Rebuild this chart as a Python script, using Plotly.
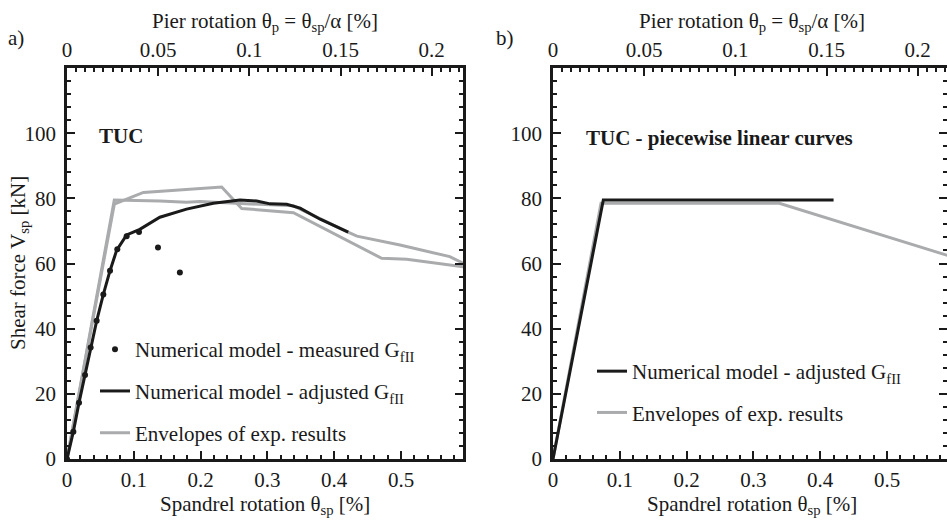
import plotly.graph_objects as go

# ---------------- data ----------------
ALPHA = 2.73  # theta_p = theta_sp / alpha

# panel a) envelopes of experimental results
env1_x = [0, 0.0708, 0.139, 0.179, 0.199, 0.339, 0.419, 0.434, 0.4985, 0.573, 0.593]
env1_y = [0, 79.5, 79.2, 78.8, 79.0, 77.7, 69.8, 68.4, 65.7, 62.1, 60.1]
env2_x = [0, 0.0708, 0.1143, 0.199, 0.2316, 0.2615, 0.339, 0.471, 0.5085, 0.593]
env2_y = [0, 78.2, 81.8, 82.9, 83.5, 76.9, 75.6, 61.6, 61.3, 59.0]

# panel a) numerical model - adjusted G_fII
adj_x = [0, 0.0095, 0.018, 0.027, 0.0354, 0.0444, 0.0544, 0.0644, 0.0744, 0.0893,
         0.109, 0.139, 0.179, 0.219, 0.259, 0.284, 0.304, 0.329, 0.349, 0.379, 0.421]
adj_y = [0, 8.4, 17.3, 25.8, 34.2, 42.4, 50.5, 57.8, 64.1, 68.8,
         70.5, 74.2, 76.7, 78.5, 79.5, 79.2, 78.3, 78.2, 77.0, 73.6, 69.6]

# panel a) numerical model - measured G_fII (dots)
meas_x = [0, 0.0095, 0.018, 0.027, 0.0354, 0.0444, 0.0544, 0.0644, 0.0753, 0.0893, 0.1078, 0.1362, 0.169]
meas_y = [0, 8.4, 17.3, 25.8, 34.2, 42.4, 50.5, 57.8, 64.4, 68.4, 69.7, 64.9, 57.2]

# panel b) piecewise linear curves
pw_num_x = [0, 0.0753, 0.42]
pw_num_y = [0, 79.5, 79.5]
pw_exp_x = [0, 0.0719, 0.3388, 0.60]
pw_exp_y = [0, 78.5, 78.5, 61.9]

# axis settings
XMAX_L = 0.5928
XMAX_R = 0.5898
YMAX = 120
y_ticks = [0, 20, 40, 60, 80, 100]
x_ticks = [0, 0.1, 0.2, 0.3, 0.4, 0.5]
top_ticks = [0, 0.05, 0.1, 0.15, 0.2]

# ---------------- styling ----------------
FONT = "Liberation Serif"
FS = 21
BLACK = "#1a1a1a"
GRAY = "#a9abad"

W, H = 947, 520
def px(x):
    return x / W
def py(y):
    return 1 - y / H

dom_l = [px(67), px(463)]
dom_r = [px(553), 1.0]
dom_y = [1 - 459 / H, 1 - 68 / H]

fig = go.Figure()

# panel a
fig.add_trace(go.Scatter(x=env1_x, y=env1_y, mode="lines", line=dict(color=GRAY, width=3),
                         name="Envelopes of exp. results", legend="legend", legendgroup="e",
                         legendrank=3, xaxis="x", yaxis="y"))
fig.add_trace(go.Scatter(x=env2_x, y=env2_y, mode="lines", line=dict(color=GRAY, width=3),
                         showlegend=False, legendgroup="e", xaxis="x", yaxis="y"))
fig.add_trace(go.Scatter(x=adj_x, y=adj_y, mode="lines", line=dict(color=BLACK, width=3),
                         name="Numerical model - adjusted G<sub>fII</sub>", legend="legend",
                         legendgroup="a", legendrank=2, xaxis="x", yaxis="y"))
fig.add_trace(go.Scatter(x=meas_x, y=meas_y, mode="markers", marker=dict(color=BLACK, size=6),
                         name="Numerical model - measured G<sub>fII</sub>", legend="legend",
                         legendgroup="m", legendrank=1, xaxis="x", yaxis="y"))
fig.add_trace(go.Scatter(x=[], y=[], xaxis="x3", yaxis="y", showlegend=False, hoverinfo="skip"))

# panel b
fig.add_trace(go.Scatter(x=pw_exp_x, y=pw_exp_y, mode="lines", line=dict(color=GRAY, width=3),
                         name="Envelopes of exp. results", legend="legend2", legendgroup="e2",
                         legendrank=2, xaxis="x2", yaxis="y2"))
fig.add_trace(go.Scatter(x=pw_num_x, y=pw_num_y, mode="lines", line=dict(color=BLACK, width=3),
                         name="Numerical model - adjusted G<sub>fII</sub>", legend="legend2",
                         legendgroup="a2", legendrank=1, xaxis="x2", yaxis="y2"))
fig.add_trace(go.Scatter(x=[], y=[], xaxis="x4", yaxis="y2", showlegend=False, hoverinfo="skip"))

tickfont = dict(family=FONT, size=FS, color=BLACK)
common = dict(showgrid=False, zeroline=False, showline=True, linecolor=BLACK, linewidth=2.5,
              ticks="inside", ticklen=8, tickwidth=2, tickcolor=BLACK, tickfont=tickfont,
              automargin=False)

def xbottom(dom, xmax, anchor):
    return dict(domain=dom, range=[0, xmax], anchor=anchor, tickvals=x_ticks,
                ticktext=[("%g" % v) for v in x_ticks], ticklabelstandoff=0,
                minor=dict(dtick=0.02, tick0=0, ticks="inside", ticklen=4, tickwidth=1.5,
                           tickcolor=BLACK),
                **common)

def xtop(over, xmax, anchor):
    return dict(overlaying=over, side="top", range=[0, xmax / ALPHA], anchor=anchor,
                tickvals=top_ticks, ticktext=[("%g" % v) for v in top_ticks],
                ticklabelstandoff=0,
                minor=dict(dtick=0.005, tick0=0, ticks="inside", ticklen=4, tickwidth=1.5,
                           tickcolor=BLACK),
                **common)

def yax(anchor):
    return dict(domain=dom_y, range=[0, YMAX], anchor=anchor, tickvals=y_ticks,
                ticktext=[str(v) for v in y_ticks], mirror="ticks", ticklabelstandoff=4,
                minor=dict(dtick=4, tick0=0, ticks="inside", ticklen=4, tickwidth=1.5,
                           tickcolor=BLACK),
                **common)

fig.update_layout(
    width=W, height=H, margin=dict(l=0, r=0, t=0, b=0, autoexpand=False),
    paper_bgcolor="white", plot_bgcolor="white",
    xaxis=xbottom(dom_l, XMAX_L, "y"),
    xaxis2=xbottom(dom_r, XMAX_R, "y2"),
    xaxis3=xtop("x", XMAX_L, "y"),
    xaxis4=xtop("x2", XMAX_R, "y2"),
    yaxis=yax("x"),
    yaxis2=yax("x2"),
    font=dict(family=FONT, size=FS, color=BLACK),
    legend=dict(x=px(95), y=py(329), xanchor="left", yanchor="top",
                bgcolor="rgba(0,0,0,0)", tracegroupgap=11.5,
                font=dict(family=FONT, size=FS, color=BLACK)),
    legend2=dict(x=px(592), y=py(351), xanchor="left", yanchor="top",
                 bgcolor="rgba(0,0,0,0)", tracegroupgap=11,
                 font=dict(family=FONT, size=FS, color=BLACK)),
    showlegend=True,
)

def ann(text, x, y, **kw):
    d = dict(text=text, x=px(x), y=py(y), xref="paper", yref="paper", showarrow=False,
             xanchor="center", yanchor="middle",
             font=dict(family=FONT, size=FS, color=BLACK))
    d.update(kw)
    fig.add_annotation(**d)

ann("a)", 16, 38)
ann("b)", 505, 38)
ann("<b>TUC</b>", 97, 136, xanchor="left")
ann("<b>TUC - piecewise linear curves</b>", 584, 138, xanchor="left")
for cx in (265, 752):
    ann("Pier rotation θ<sub>p</sub> = θ<sub>sp</sub>/α [%]", cx, 22)
    ann("Spandrel rotation θ<sub>sp</sub> [%]", cx, 505)
ann("Shear force V<sub>sp</sub> [kN]", 19, 263, textangle=-90)

fig.write_html("out.html")
